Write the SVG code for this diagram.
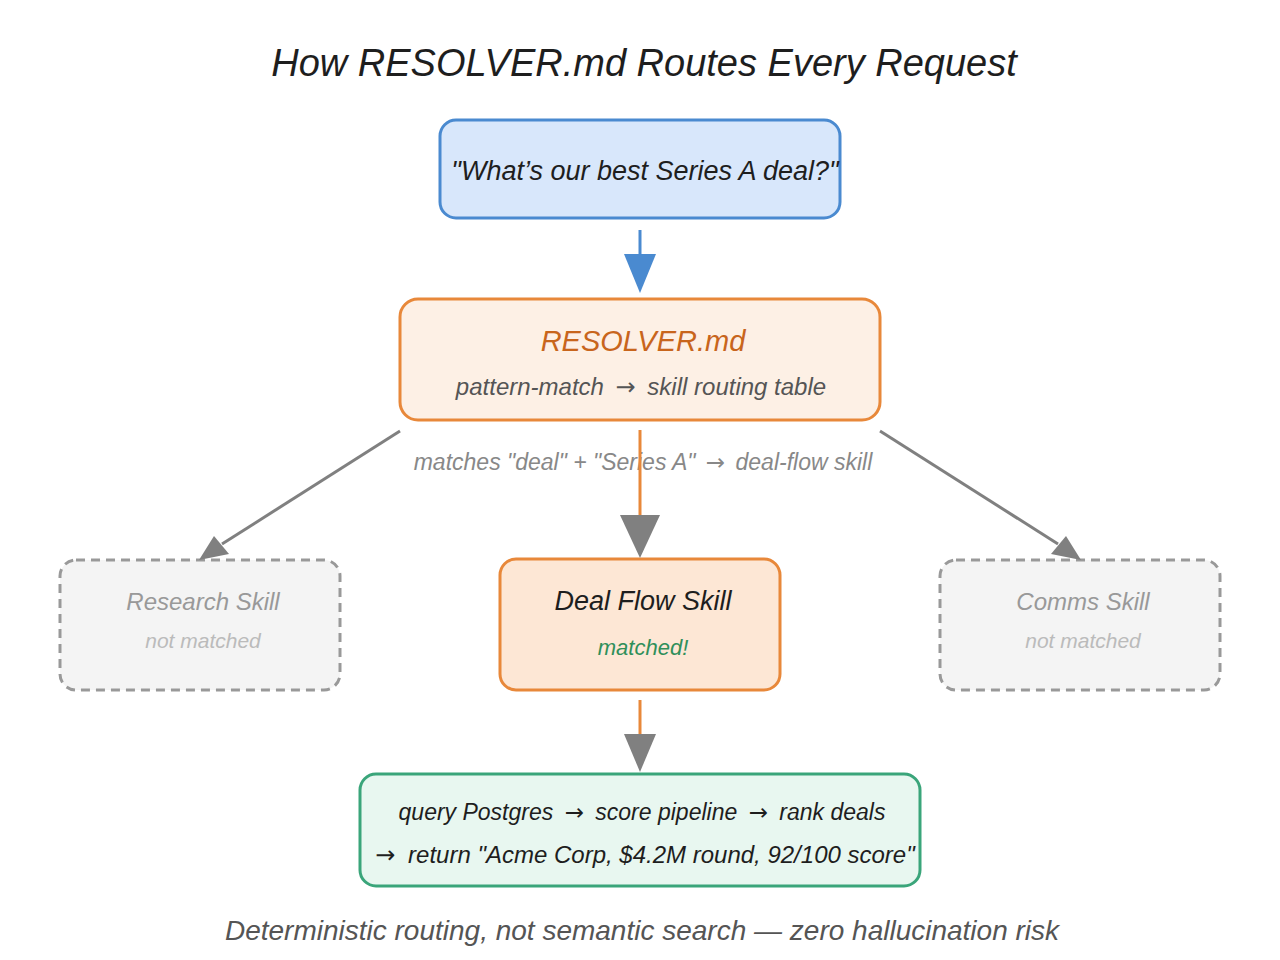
<svg xmlns="http://www.w3.org/2000/svg" width="1280" height="960" viewBox="0 0 1280 960">
  <defs>
    <style>
      text { font-family: "Liberation Sans", "DejaVu Sans", sans-serif; text-anchor: middle; font-style: italic; }
      .ar { font-family: "DejaVu Sans", sans-serif; font-style: normal; }
      .title { font-size: 38px; fill: #1e1e1e; }
      .box { stroke-width: 3; }
      .dash { fill: #f4f4f4; stroke: #999999; stroke-width: 3; stroke-dasharray: 9 6; }
      .conn { fill: none; stroke-width: 3; }
      .head { stroke: none; }
    </style>
  </defs>
  <rect width="1280" height="960" fill="#ffffff"/>

  <text class="title" x="644" y="76">How RESOLVER.md Routes Every Request</text>

  <g id="query">
    <rect class="box" x="440" y="120" width="400" height="98" rx="16" fill="#d8e7fb" stroke="#4a8ad0"/>
    <text x="645" y="180" font-size="27" fill="#1e1e1e">"What’s our best Series A deal?"</text>
  </g>

  <g id="resolver">
    <rect class="box" x="400" y="299" width="480" height="121" rx="18" fill="#fdf0e5" stroke="#e8883a"/>
    <text x="643" y="351" font-size="29" fill="#c8651c">RESOLVER.md</text>
    <text x="641" y="395" font-size="24" fill="#555555">pattern-match <tspan class="ar" dx="5">→</tspan><tspan dx="5"> skill routing table</tspan></text>
  </g>

  <g id="research">
    <rect class="dash" x="60" y="560" width="280" height="130" rx="16"/>
    <text x="203" y="610" font-size="24" fill="#999999">Research Skill</text>
    <text x="203" y="648" font-size="21" fill="#bbbbbb">not matched</text>
  </g>

  <g id="dealflow">
    <rect class="box" x="500" y="559" width="280" height="131" rx="16" fill="#fde7d5" stroke="#e8883a"/>
    <text x="643" y="610" font-size="27" fill="#1e1e1e">Deal Flow Skill</text>
    <text x="643" y="655" font-size="22" fill="#2f8f5a">matched!</text>
  </g>

  <g id="comms">
    <rect class="dash" x="940" y="560" width="280" height="130" rx="16"/>
    <text x="1083" y="610" font-size="24" fill="#999999">Comms Skill</text>
    <text x="1083" y="648" font-size="21" fill="#bbbbbb">not matched</text>
  </g>

  <g id="result">
    <rect class="box" x="360" y="774" width="560" height="112" rx="16" fill="#e8f7f0" stroke="#3aa57a"/>
    <text x="642" y="820" font-size="23" fill="#1e1e1e">query Postgres <tspan class="ar" dx="5">→</tspan><tspan dx="5"> score pipeline </tspan><tspan class="ar" dx="5">→</tspan><tspan dx="5"> rank deals</tspan></text>
    <text x="645" y="863" font-size="24" fill="#1e1e1e"><tspan class="ar">→</tspan><tspan dx="6"> return "Acme Corp, $4.2M round, 92/100 score"</tspan></text>
  </g>

  <g id="connectors">
    <text x="643" y="470" font-size="23" fill="#888888">matches "deal" + "Series A" <tspan class="ar" dx="4">→</tspan><tspan dx="4"> deal-flow skill</tspan></text>
    <line class="conn" x1="640" y1="230" x2="640" y2="258" stroke="#4a8ad0"/>
    <polygon class="head" points="624,254 656,254 640,293" fill="#4a8ad0"/>

    <line class="conn" x1="640" y1="430" x2="640" y2="516" stroke="#e8883a"/>
    <polygon class="head" points="620,515 660,515 640,558" fill="#808080"/>

    <line class="conn" x1="400" y1="431" x2="222" y2="544" stroke="#808080"/>
    <polygon class="head" points="199,560 214,536 229,554" fill="#808080"/>

    <line class="conn" x1="880" y1="431" x2="1058" y2="544" stroke="#808080"/>
    <polygon class="head" points="1081,560 1066,536 1051,554" fill="#808080"/>

    <line class="conn" x1="640" y1="700" x2="640" y2="736" stroke="#e8883a"/>
    <polygon class="head" points="624,734 656,734 640,772" fill="#808080"/>
  </g>

  <text x="642" y="940" font-size="28" fill="#555555">Deterministic routing, not semantic search — zero hallucination risk</text>
</svg>
